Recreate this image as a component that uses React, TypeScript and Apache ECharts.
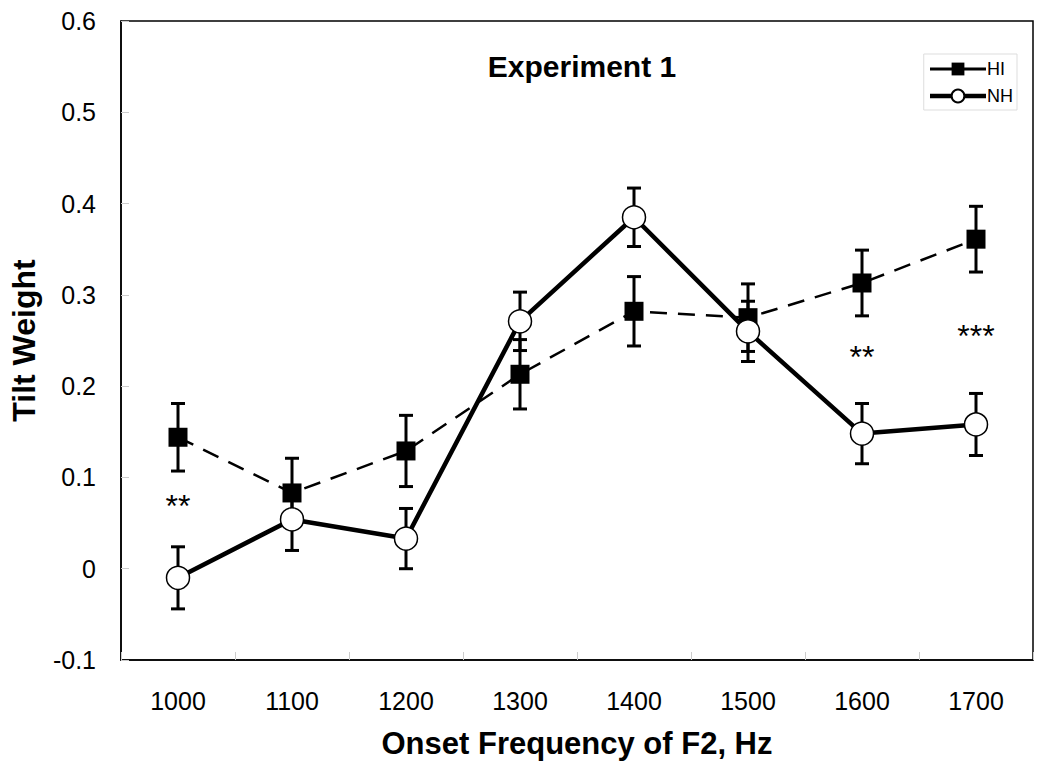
import React, { useEffect, useRef } from "react";
import * as echarts from "echarts";

const categories = ["1000", "1100", "1200", "1300", "1400", "1500", "1600", "1700"];
const hiValues = [0.144, 0.083, 0.129, 0.213, 0.282, 0.275, 0.313, 0.361];
const hiErrors = [0.037, 0.038, 0.039, 0.038, 0.038, 0.037, 0.036, 0.036];
const nhValues = [-0.01, 0.054, 0.033, 0.271, 0.385, 0.26, 0.148, 0.158];
const nhErrors = [0.034, 0.034, 0.033, 0.032, 0.032, 0.033, 0.033, 0.034];
const starLabels = [
  { cat: "1000", value: 0.072, text: "**" },
  { cat: "1600", value: 0.235, text: "**" },
  { cat: "1700", value: 0.258, text: "***" },
];

const FONT = "Liberation Sans, Arial, sans-serif";

function errorSeries(name: string, values: number[], errors: number[], z: number) {
  return {
    name: name + "-err",
    type: "custom",
    z,
    silent: true,
    data: values.map((v, i) => [i, v - errors[i], v + errors[i]]),
    renderItem: (params: any, api: any) => {
      const x = api.value(0);
      const lo = api.coord([x, api.value(1)]);
      const hi = api.coord([x, api.value(2)]);
      const cap = 7;
      const style = { stroke: "#000", lineWidth: 3 };
      return {
        type: "group",
        children: [
          { type: "line", shape: { x1: lo[0], y1: lo[1], x2: hi[0], y2: hi[1] }, style },
          { type: "line", shape: { x1: lo[0] - cap, y1: lo[1], x2: lo[0] + cap, y2: lo[1] }, style },
          { type: "line", shape: { x1: hi[0] - cap, y1: hi[1], x2: hi[0] + cap, y2: hi[1] }, style },
        ],
      };
    },
  };
}

export default function App() {
  const ref = useRef<HTMLDivElement>(null);
  useEffect(() => {
    const chart = echarts.init(ref.current!, null, { renderer: "svg" });
    chart.setOption({
      animation: false,
      backgroundColor: "#fff",
      grid: { left: 118, right: 17, top: 21, bottom: 114, show: true, borderColor: "#000", borderWidth: 1.5 },
      title: {
        text: "Experiment 1",
        left: 582,
        top: 51,
        textAlign: "center",
        padding: 0,
        textStyle: { fontFamily: FONT, fontSize: 30, fontWeight: "bold", color: "#000" },
      },
      legend: {
        right: 33,
        top: 54,
        orient: "vertical",
        itemWidth: 56,
        itemHeight: 16,
        itemGap: 9,
        padding: [6, 4, 5, 4],
        borderColor: "#ddd",
        borderWidth: 1,
        textStyle: { fontFamily: FONT, fontSize: 18, color: "#000", padding: [0, 0, 0, -4] },
        data: [
          { name: "HI", lineStyle: { type: "solid", width: 3 } },
          { name: "NH", lineStyle: { type: "solid", width: 4.5 } },
        ],
      },
      xAxis: {
        type: "category",
        data: categories,
        boundaryGap: true,
        name: "Onset Frequency of F2, Hz",
        nameLocation: "middle",
        nameGap: 68,
        nameTextStyle: { fontFamily: FONT, fontSize: 31, fontWeight: "bold", color: "#000" },
        axisLine: { onZero: false, lineStyle: { color: "#000", width: 1.5 } },
        axisTick: { show: true, inside: true, length: 8, lineStyle: { color: "#ccc" } },
        axisLabel: { fontFamily: FONT, fontSize: 25, color: "#000", margin: 28 },
        splitLine: { show: false },
      },
      yAxis: {
        type: "value",
        min: -0.1,
        max: 0.6,
        interval: 0.1,
        name: "Tilt Weight",
        nameLocation: "middle",
        nameGap: 81,
        nameTextStyle: { fontFamily: FONT, fontSize: 32, fontWeight: "bold", color: "#000" },
        axisLine: { show: true, lineStyle: { color: "#000", width: 1.5 } },
        axisTick: { show: true, inside: true, length: 8, lineStyle: { color: "#ccc" } },
        axisLabel: {
          fontFamily: FONT,
          fontSize: 25,
          color: "#000",
          margin: 25,
          formatter: (v: number) => String(Math.round(v * 10) / 10),
        },
        splitLine: { show: false },
      },
      series: [
        errorSeries("HI", hiValues, hiErrors, 3),
        errorSeries("NH", nhValues, nhErrors, 3),
        {
          name: "HI",
          type: "line",
          z: 4,
          data: hiValues,
          symbol: "rect",
          symbolSize: 19,
          itemStyle: { color: "#000" },
          lineStyle: { color: "#000", width: 2.5, type: [17, 11] },
        },
        {
          name: "NH",
          type: "line",
          z: 5,
          data: nhValues,
          symbol: "circle",
          symbolSize: 23,
          itemStyle: { color: "#fff", borderColor: "#000", borderWidth: 1.5 },
          lineStyle: { color: "#000", width: 4.5 },
        },
        {
          name: "stars",
          type: "scatter",
          z: 6,
          silent: true,
          symbolSize: 0,
          itemStyle: { opacity: 1 },
          data: starLabels.map((s) => [s.cat, s.value, s.text]),
          label: {
            show: true,
            position: "inside",
            offset: [0, 3],
            formatter: (p: any) => p.value[2],
            fontFamily: FONT,
            fontSize: 32,
            fontWeight: "normal",
            color: "#000",
            textBorderWidth: 0,
          },
        },
      ],
    });
    return () => chart.dispose();
  }, []);
  return <div ref={ref} style={{ width: 1050, height: 774, position: "absolute", left: 0, top: 0 }} />;
}
